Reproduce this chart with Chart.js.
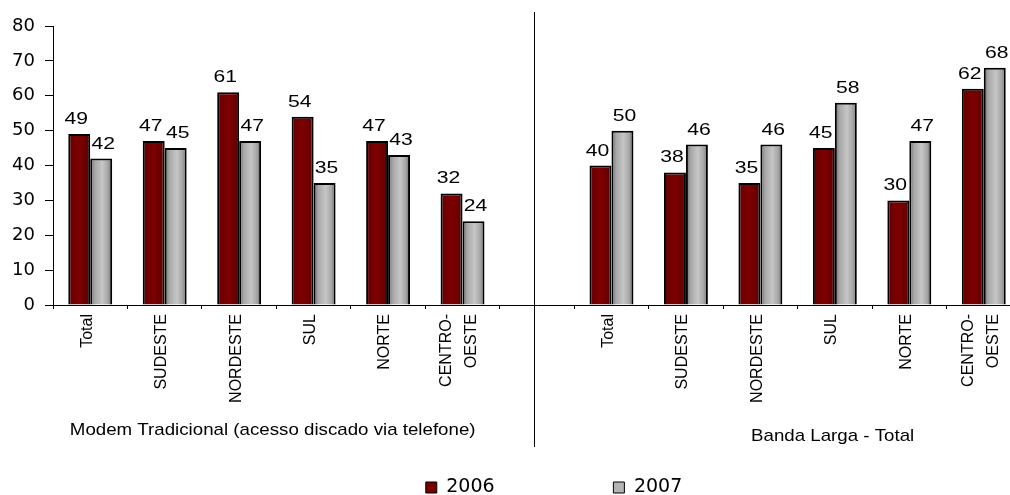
<!DOCTYPE html>
<html>
<head>
<meta charset="utf-8">
<script src="https://cdn.jsdelivr.net/npm/chart.js@4/dist/chart.umd.min.js"></script>
<style>
  html, body { margin: 0; padding: 0; background: #fff; width: 1010px; height: 495px; overflow: hidden; }
  #wrap { position: relative; width: 1108px; height: 507px; }
  canvas { display: block; }
</style>
</head>
<body>
<div id="wrap"><canvas id="chart" width="1108" height="507"></canvas></div>
<script>
// Categories: two groups of regions separated by an empty slot
const CATEGORIES = ['Total', 'SUDESTE', 'NORDESTE', 'SUL', 'NORTE', ['CENTRO-', 'OESTE'], '',
                    'Total', 'SUDESTE', 'NORDESTE', 'SUL', 'NORTE', ['CENTRO-', 'OESTE']];
const SERIES = ['2006', '2007'];
const VALUES_2006 = [49, 47, 61, 54, 47, 32, null, 40, 38, 35, 45, 30, 62];
const VALUES_2007 = [42, 45, 47, 35, 43, 24, null, 50, 46, 46, 58, 47, 68];
const GROUP_TITLES = ['Modem Tradicional (acesso discado via telefone)', 'Banda Larga - Total'];
const GAP_INDEX = 6;

// Flat colours (legend) and cylinder-like shading ramps (bars)
const SOLID = ['#7a0000', '#b4b4b4'];
const RAMPS = [
  [[0, '#380000'], [0.14, '#6c0000'], [0.5, '#7e0000'], [0.86, '#680000'], [1, '#2c0000']],
  [[0, '#6e6e6e'], [0.22, '#a8a8a8'], [0.55, '#c6c6c6'], [0.82, '#a4a4a4'], [1, '#5e5e5e']]
];
const LABEL_SHIFT = [-3, 2];

// Horizontal shading of each bar, computed from the bar geometry
const shading = {
  id: 'shading',
  beforeDatasetsDraw(chart) {
    const c = chart.ctx;
    chart.data.datasets.forEach((ds, di) => {
      chart.getDatasetMeta(di).data.forEach(bar => {
        const {x, width} = bar.getProps(['x', 'width'], true);
        if (!isFinite(x) || !isFinite(width)) return;
        const g = c.createLinearGradient(x - width / 2, 0, x + width / 2, 0);
        RAMPS[di].forEach(([o, col]) => g.addColorStop(o, col));
        bar.options.backgroundColor = g;
      });
    });
  }
};

// Value labels above each bar
const valueLabels = {
  id: 'valueLabels',
  afterDatasetsDraw(chart) {
    const c = chart.ctx;
    chart.data.datasets.forEach((ds, di) => {
      chart.getDatasetMeta(di).data.forEach((bar, i) => {
        const v = ds.data[i];
        if (v === null || v === undefined) return;
        c.save();
        c.translate(bar.x + LABEL_SHIFT[di], bar.y - 10);
        c.scale(1.28, 1);
        c.font = '16.5px "Liberation Sans", Arial, sans-serif';
        c.fillStyle = '#000';
        c.textAlign = 'center';
        c.textBaseline = 'alphabetic';
        c.fillText(String(v), 0, 0);
        c.restore();
      });
    });
  }
};

// Vertical category names under the axis (multi-line names centred on their slot)
const categoryLabels = {
  id: 'categoryLabels',
  afterDraw(chart) {
    const {ctx, scales: {x}} = chart;
    ctx.save();
    ctx.fillStyle = '#000';
    ctx.font = '16px "Liberation Sans", Arial, sans-serif';
    ctx.textAlign = 'right';
    ctx.textBaseline = 'middle';
    CATEGORIES.forEach((lab, i) => {
      const lines = Array.isArray(lab) ? lab : [lab];
      if (!lines.join('')) return;
      const px = x.getPixelForValue(i);
      lines.forEach((line, k) => {
        ctx.save();
        ctx.translate(px - 3 + (k - (lines.length - 1) / 2) * 25, x.top + 9);
        ctx.rotate(-Math.PI / 2);
        ctx.fillText(line, 0, 0);
        ctx.restore();
      });
    });
    ctx.restore();
  }
};

// Divider between the two groups and the group captions
const groupDecor = {
  id: 'groupDecor',
  afterDraw(chart) {
    const {ctx, chartArea, scales: {x}} = chart;
    ctx.save();
    const dx = Math.round(x.getPixelForValue(GAP_INDEX - 0.04)) + 0.5;
    ctx.strokeStyle = '#000';
    ctx.lineWidth = 1;
    ctx.beginPath();
    ctx.moveTo(dx, chartArea.top - 14);
    ctx.lineTo(dx, chartArea.bottom + 142);
    ctx.stroke();

    const anchors = [
      {at: 2.45, dy: 125.5},
      {at: 9.97, dy: 131}
    ];
    ctx.fillStyle = '#000';
    ctx.font = '17px "Liberation Sans", Arial, sans-serif';
    ctx.textAlign = 'center';
    ctx.textBaseline = 'middle';
    GROUP_TITLES.forEach((t, i) => {
      ctx.save();
      ctx.translate(x.getPixelForValue(anchors[i].at), chartArea.bottom + anchors[i].dy);
      ctx.scale(1.1, 1);
      ctx.fillText(t, 0, 0);
      ctx.restore();
    });
    ctx.restore();
  }
};

new Chart(document.getElementById('chart'), {
  type: 'bar',
  data: {
    labels: CATEGORIES,
    datasets: [
      {
        label: SERIES[0], data: VALUES_2006,
        backgroundColor: () => SOLID[0],
        borderColor: '#000', borderWidth: 2
      },
      {
        label: SERIES[1], data: VALUES_2007,
        backgroundColor: () => SOLID[1],
        borderColor: '#000', borderWidth: 2
      }
    ]
  },
  options: {
    responsive: false,
    animation: false,
    events: [],
    datasets: { bar: { categoryPercentage: 0.59, barPercentage: 1 } },
    layout: { padding: { top: 26, left: 0, right: 0, bottom: 0 } },
    scales: {
      x: {
        grid: { display: true, drawOnChartArea: false, drawTicks: true, tickLength: 4, color: '#000', offset: true },
        border: { display: true, color: '#000', width: 1 },
        ticks: { display: false, autoSkip: false },
        afterFit(s) { s.height = 169; }
      },
      y: {
        min: 0, max: 80,
        grid: { display: true, drawOnChartArea: false, drawTicks: true, tickLength: 8, color: '#000' },
        border: { display: true, color: '#000', width: 1 },
        ticks: {
          stepSize: 10, padding: 10, color: '#000',
          font: { family: '"DejaVu Sans", sans-serif', size: 18 }
        },
        afterFit(s) { s.width = 53; }
      },
      spacer: {
        type: 'linear', position: 'right', display: true,
        grid: { display: false, drawTicks: false },
        border: { display: false },
        ticks: { display: false },
        afterFit(s) { s.width = 87; }
      }
    },
    plugins: {
      tooltip: { enabled: false },
      title: { display: false },
      legend: {
        display: true,
        position: 'bottom',
        labels: {
          boxWidth: 11, boxHeight: 11, padding: 4, color: '#000',
          font: { family: '"DejaVu Sans", sans-serif', size: 19 },
          generateLabels: (chart) => chart.data.datasets.map((ds, i) => ({
            text: i === 0 ? ds.label + '\u00A0'.repeat(19) : ds.label,
            fillStyle: SOLID[i],
            strokeStyle: '#000',
            lineWidth: 1,
            hidden: false,
            datasetIndex: i
          }))
        }
      }
    }
  },
  plugins: [shading, valueLabels, categoryLabels, groupDecor]
});
</script>
</body>
</html>
